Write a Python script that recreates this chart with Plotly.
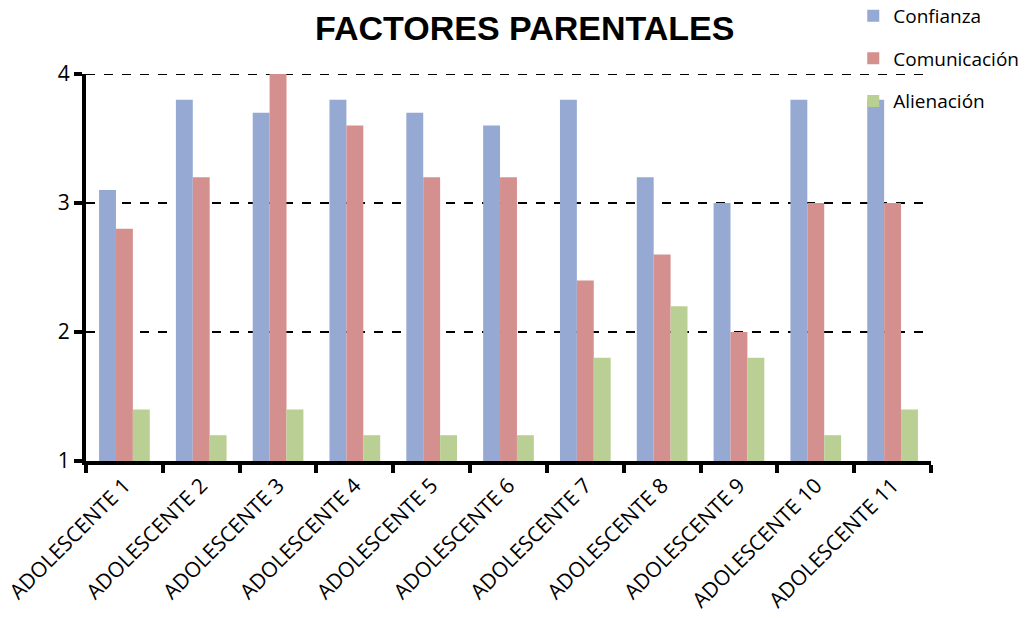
import plotly.graph_objects as go

categories = [f"ADOLESCENTE {i}" for i in range(1, 12)]
confianza = [3.1, 3.8, 3.7, 3.8, 3.7, 3.6, 3.8, 3.2, 3.0, 3.8, 3.8]
comunicacion = [2.8, 3.2, 4.0, 3.6, 3.2, 3.2, 2.4, 2.6, 2.0, 3.0, 3.0]
alienacion = [1.4, 1.2, 1.4, 1.2, 1.2, 1.2, 1.8, 2.2, 1.8, 1.2, 1.4]

series = [
    ("Confianza", confianza, "#95A9D2", "legend", 1.15),
    ("Comunicación", comunicacion, "#D4908F", "legend2", 1.04),
    ("Alienación", alienacion, "#BACF94", "legend3", 0.93),
]

fig = go.Figure()
legends = {}
for name, vals, color, lg, ly in series:
    fig.add_trace(go.Bar(
        x=categories, y=[v - 1 for v in vals], base=1, name=name,
        marker=dict(color=color, line=dict(width=0)), legend=lg,
    ))
    legends[lg] = dict(x=0.908, y=ly, xanchor="left", yanchor="middle",
                       bgcolor="rgba(0,0,0,0)",
                       font=dict(size=19, family="Open Sans", color="black"),
                       itemwidth=30)

fig.update_layout(
    width=1035, height=618,
    margin=dict(l=86, r=104, t=74, b=157, autoexpand=False),
    paper_bgcolor="white", plot_bgcolor="white",
    barmode="group", bargap=0.34, bargroupgap=0,
    title=dict(text="<b>FACTORES PARENTALES</b>", x=0.507, xanchor="center",
               y=0.955, yanchor="middle",
               font=dict(family="Liberation Sans Narrow, Liberation Sans, Arial", size=34, color="black")),
    font=dict(family="Open Sans", color="black"),
    showlegend=True,
    **legends,
)
fig.update_xaxes(
    showline=True, linecolor="black", linewidth=4,
    ticks="outside", tickson="boundaries", ticklen=8, tickwidth=4, tickcolor="black",
    tickangle=-45, tickfont=dict(size=21, family="Open Sans"),
    showgrid=False,
)
fig.update_yaxes(
    range=[1, 4], tickvals=[1, 2, 3, 4],
    showline=True, linecolor="black", linewidth=4,
    ticks="outside", ticklen=8, tickwidth=4, tickcolor="black",
    tickfont=dict(size=21, family="Open Sans"),
    showgrid=True, gridcolor="black", gridwidth=2, griddash="dash",
    zeroline=False,
)
fig.add_hline(y=4, line=dict(color="black", width=2, dash="dash"), layer="below")

fig.write_html("out.html")
